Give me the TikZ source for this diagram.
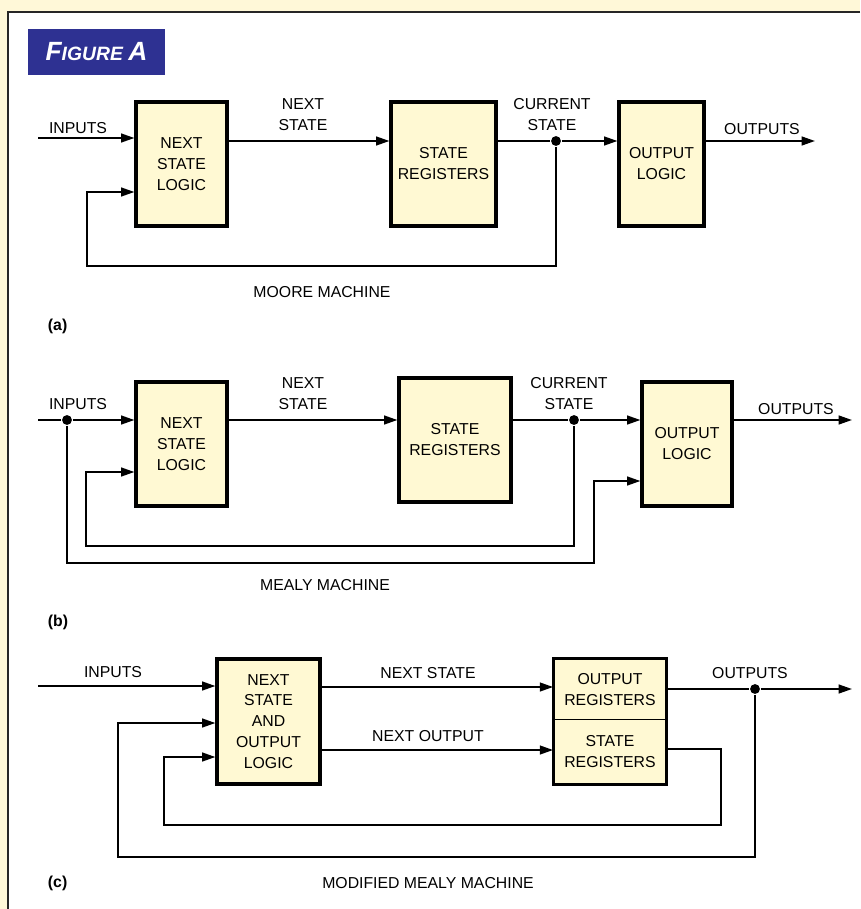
\documentclass[tikz,border=0pt]{standalone}
\usepackage{fontspec}
\setmainfont{Liberation Sans}
\usetikzlibrary{arrows.meta,fit}
\definecolor{pagebg}{HTML}{FFF8D8}
\definecolor{boxfill}{HTML}{FFF9D3}
\definecolor{figblue}{HTML}{2E3192}
\newcommand{\labelfont}{\fontsize{9}{11.9}\selectfont}
\tikzset{
    blk/.style={draw, line width=1.8pt, fill=boxfill, align=center, inner sep=0pt, font=\labelfont},
    lbl/.style={align=center, inner sep=0pt, font=\labelfont},
    arr/.style={-{Triangle[length=7.6pt,width=5pt]}},
    dot/.style={circle, fill, inner sep=0pt, minimum size=5.6pt},
}
\begin{document}
\begin{tikzpicture}[x=0.02cm, y=-0.02cm, line width=1.1pt]
    \useasboundingbox (0,0) rectangle (860,909);
    % 背景
    \fill[pagebg] (0,0) rectangle (860,909);
    \fill[white] (8,12) rectangle (860,909);
    \draw[line width=1pt, black!85] (860,12) -- (8,12) -- (8,909);
    \node[fill=figblue, text=white, minimum width=2.74cm, minimum height=0.92cm, inner sep=0pt,
          font=\bfseries\itshape] (title) at (96.5,52)
        {\fontsize{15}{15}\selectfont F\fontsize{11}{11}\selectfont IGURE \fontsize{15}{15}\selectfont A};

    % (a) Moore
    \begin{scope}
        \node[blk, minimum width=1.82cm, minimum height=2.48cm] (nslA) at (181.5,164) {NEXT\\STATE\\LOGIC};
        \node[blk, minimum width=2.1cm, minimum height=2.48cm] (srA) at (443.5,164) {STATE\\REGISTERS};
        \node[blk, minimum width=1.7cm, minimum height=2.48cm] (olA) at (661.5,164) {OUTPUT\\LOGIC};
        \node[dot] (dotA) at (556,141) {};
        \coordinate (inA) at (38,138);
        \coordinate (outA) at (815,141);
        \coordinate (loopA) at (87,266);
        \coordinate (fbA) at (87,192);

        \draw[arr] (inA) -- (inA -| nslA.west);
        \draw[arr] (nslA.east |- dotA) -- (srA.west |- dotA);
        \draw (srA.east |- dotA) -- (dotA);
        \draw[arr] (dotA) -- (olA.west |- dotA);
        \draw[arr] (olA.east |- dotA) -- (outA);
        \draw[arr] (dotA) |- (loopA) -- (fbA) -- (fbA -| nslA.west);

        \node[lbl] (inlblA) at (78,128) {INPUTS};
        \node[lbl] (nslblA) at (303,114.5) {NEXT\\STATE};
        \node[lbl] (cslblA) at (552,114.5) {CURRENT\\STATE};
        \node[lbl] (outlblA) at (762,129) {OUTPUTS};
        \node[lbl] (nameA) at (322,292) {MOORE MACHINE};
        \node[lbl, anchor=west, font=\labelfont\bfseries] (tagA) at (47,326) {(a)};
    \end{scope}

    % (b) Mealy
    \begin{scope}
        \node[blk, minimum width=1.82cm, minimum height=2.48cm] (nslB) at (181.5,444) {NEXT\\STATE\\LOGIC};
        \node[blk, minimum width=2.24cm, minimum height=2.48cm] (srB) at (455,440) {STATE\\REGISTERS};
        \node[blk, minimum width=1.8cm, minimum height=2.48cm] (olB) at (687,444) {OUTPUT\\LOGIC};
        \node[dot] (dotIn) at (67,420) {};
        \node[dot] (dotB) at (574,420) {};
        \coordinate (inB) at (38,420);
        \coordinate (outB) at (852,420);
        \coordinate (loopB) at (86,546);
        \coordinate (fbB) at (86,472);
        \coordinate (loopIn) at (594,563);
        \coordinate (fbIn) at (594,481);

        \draw (inB) -- (dotIn);
        \draw[arr] (dotIn) -- (dotIn -| nslB.west);
        \draw[arr] (nslB.east |- dotB) -- (srB.west |- dotB);
        \draw (srB.east |- dotB) -- (dotB);
        \draw[arr] (dotB) -- (olB.west |- dotB);
        \draw[arr] (olB.east |- dotB) -- (outB);
        \draw[arr] (dotB) |- (loopB) -- (fbB) -- (fbB -| nslB.west);
        \draw[arr] (dotIn) |- (loopIn) -- (fbIn) -- (fbIn -| olB.west);

        \node[lbl] (inlblB) at (78,404) {INPUTS};
        \node[lbl] (nslblB) at (303,394) {NEXT\\STATE};
        \node[lbl] (cslblB) at (569,394) {CURRENT\\STATE};
        \node[lbl] (outlblB) at (796,409) {OUTPUTS};
        \node[lbl] (nameB) at (325,585) {MEALY MACHINE};
        \node[lbl, anchor=west, font=\labelfont\bfseries] (tagB) at (47,622) {(b)};
    \end{scope}

    % (c) modified Mealy
    \begin{scope}
        \node[blk, minimum width=2.06cm, minimum height=2.5cm] (nsolC) at (268.5,721.5) {NEXT\\STATE\\AND\\OUTPUT\\LOGIC};
        \node[blk, line width=1pt, minimum width=2.24cm, minimum height=1.21cm] (oregC) at (610,689.25) {OUTPUT\\REGISTERS};
        \node[blk, line width=1pt, minimum width=2.24cm, minimum height=1.29cm] (sregC) at (610,751.75) {STATE\\REGISTERS};
        \node[draw, line width=1.8pt, fit=(oregC)(sregC), inner sep=0pt] (regC) {};
        \node[dot] (dotC) at (755,689) {};
        \coordinate (inC) at (38,686);
        \coordinate (outC) at (852,689);
        \coordinate (turnC) at (721,749);
        \coordinate (loopC) at (164,825);
        \coordinate (fbC) at (164,757);
        \coordinate (loopOut) at (118,857);
        \coordinate (fbOut) at (118,723);

        \draw[arr] (inC) -- (inC -| nsolC.west);
        \draw[arr] (nsolC.east |- 0,687) -- (oregC.west |- 0,687);
        \draw[arr] (nsolC.east |- 0,750) -- (sregC.west |- 0,750);
        \draw (regC.east |- dotC) -- (dotC);
        \draw[arr] (dotC) -- (outC);
        \draw[arr] (regC.east |- turnC) -- (turnC) |- (loopC) -- (fbC) -- (fbC -| nsolC.west);
        \draw[arr] (dotC) |- (loopOut) -- (fbOut) -- (fbOut -| nsolC.west);

        \node[lbl] (inlblC) at (113,672) {INPUTS};
        \node[lbl] (nslblC) at (428,673) {NEXT STATE};
        \node[lbl] (nolblC) at (428,736) {NEXT OUTPUT};
        \node[lbl] (outlblC) at (750,673) {OUTPUTS};
        \node[lbl] (nameC) at (428,883) {MODIFIED MEALY MACHINE};
        \node[lbl, anchor=west, font=\labelfont\bfseries] (tagC) at (47,883) {(c)};
    \end{scope}
\end{tikzpicture}
\end{document}
